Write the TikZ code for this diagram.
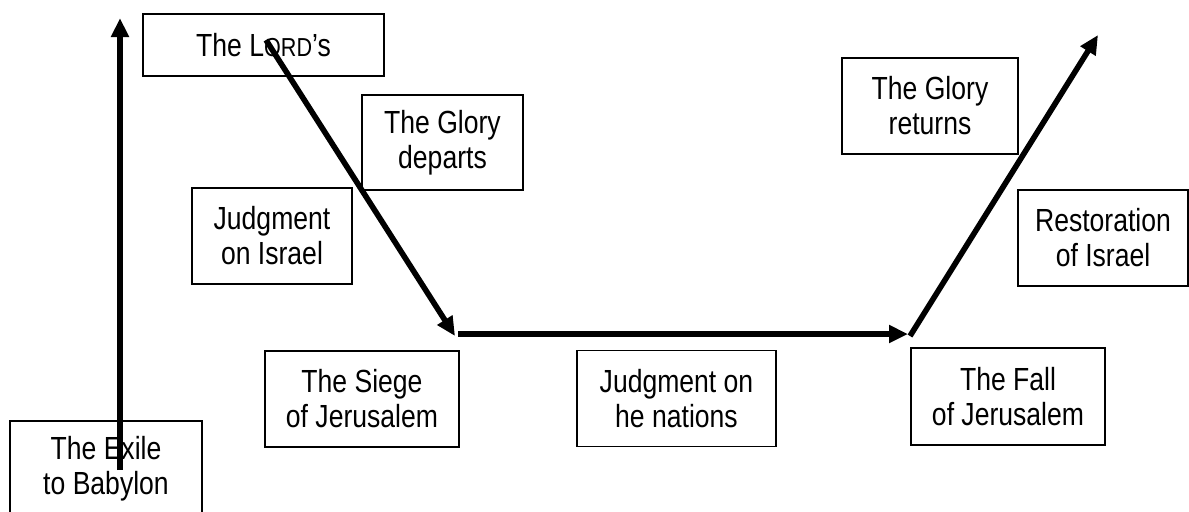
\documentclass[tikz,border=0pt]{standalone}
\usepackage{fontspec}
\setmainfont{Liberation Sans}[FakeStretch=0.83]
\usetikzlibrary{arrows.meta}
\begin{document}
\begin{tikzpicture}[x=0.5pt,y=-0.5pt,
  box/.style={draw, line width=0.8pt, inner sep=0pt, align=center,
    font=\fontsize{16}{17.5}\selectfont},
  arr/.style={line width=2.8pt, -{Triangle[length=9.5pt,width=8.5pt]}}]
\useasboundingbox (0,0) rectangle (1189,511);
\node[box, minimum width=120.5pt, minimum height=31pt] (lord) at (263.5,45) {The L{\fontsize{13}{14}\selectfont ORD}’s};
\node[box, minimum width=80.5pt, minimum height=47.5pt] (departs) at (442.5,142.5) {The Glory\\departs};
\node[box, minimum width=80pt, minimum height=48pt] (israel) at (272,236) {Judgment\\on Israel};
\node[box, minimum width=97pt, minimum height=48pt] (siege) at (362,399) {The Siege\\of Jerusalem};
\node[box, minimum width=99.5pt, minimum height=48pt] (nations) at (676.5,398.5) {Judgment on\\he nations};
\node[box, minimum width=97pt, minimum height=48.5pt] (fall) at (1008,396.5) {The Fall\\of Jerusalem};
\node[box, minimum width=88pt, minimum height=48pt] (returns) at (930,106) {The Glory\\returns};
\node[box, minimum width=85pt, minimum height=48pt] (restoration) at (1103,238) {Restoration\\of Israel};
\node[box, minimum width=96pt, minimum height=48pt] (exile) at (106,469) {The Exile\\to Babylon};
\coordinate (v0) at (120,470);
\coordinate (v1) at (120,18);
\coordinate (d0) at (266,40);
\coordinate (d1) at (455,336);
\coordinate (h0) at (458,334);
\coordinate (h1) at (908,334);
\coordinate (r0) at (910,336);
\coordinate (r1) at (1098,35);
\draw[arr] (v0) -- (v1);
\draw[arr] (d0) -- (d1);
\draw[arr] (h0) -- (h1);
\draw[arr] (r0) -- (r1);
\end{tikzpicture}
\end{document}
